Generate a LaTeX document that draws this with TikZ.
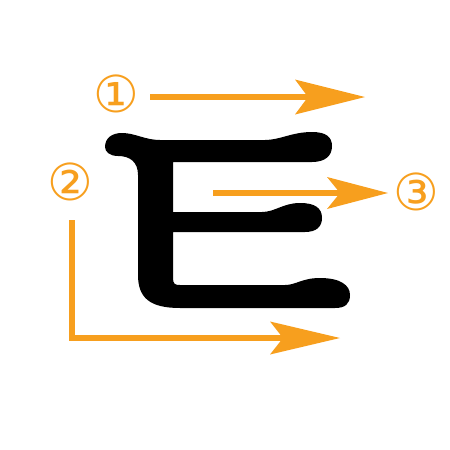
\documentclass[tikz,border=0pt]{standalone}
\usepackage{fontspec}
\newfontfamily\circfont{DejaVu Sans}
\usetikzlibrary{arrows.meta}
\definecolor{strokeorange}{RGB}{247,159,30}
\tikzset{
  x=1pt, y=-1pt,
  guide/.style={draw=strokeorange, line width=6.5pt, line cap=butt},
  numlabel/.style={text=strokeorange, font=\circfont\fontsize{51}{51}\selectfont, inner sep=0pt},
  glyph/.style={fill=black, draw=none}
}
\begin{document}
\begin{tikzpicture}
\useasboundingbox (0,0) rectangle (450,450);
% glyph
\path[glyph] (105,147)
  .. controls (105,138) and (112,133) .. (122,133)
  .. controls (135,133) and (145,140) .. (160,140)
  -- (265,140)
  .. controls (280,140) and (292,132) .. (312,132)
  .. controls (326,132) and (332,137) .. (332,146)
  .. controls (332,156) and (325,162) .. (312,162)
  -- (173,162) -- (173,212) -- (262,212)
  .. controls (275,212) and (283,203) .. (300,203)
  .. controls (315,203) and (322,208) .. (322,218)
  .. controls (322,227) and (316,232) .. (305,232)
  -- (173,232) -- (173,278)
  .. controls (173,284) and (175,285) .. (180,285)
  -- (285,285)
  .. controls (296,285) and (302,278) .. (320,278)
  .. controls (340,278) and (350,285) .. (350,295)
  .. controls (350,304) and (345,308) .. (335,308)
  -- (180,308)
  .. controls (150,308) and (138,298) .. (138,275)
  -- (138,175)
  .. controls (138,162) and (130,156) .. (118,156)
  .. controls (110,156) and (105,152) .. (105,147)
  -- cycle;
% labels
\node[numlabel] (n1) at (116,94) {①};
\node[numlabel] (n2) at (70,182) {②};
\node[numlabel] (n3) at (416,192) {③};
% guide coordinates
\coordinate (a1s) at (150,97);
\coordinate (a1e) at (365,97);
\coordinate (a3s) at (213,193);
\coordinate (a3e) at (388,193);
\coordinate (a2s) at (72,220);
\coordinate (a2c) at (72,338);
\coordinate (a2e) at (340,338);
% arrows
\draw[guide, -{Stealth[length=70pt,width=35pt,inset=13pt,line width=0pt]}] (a1s) -- (a1e);
\draw[guide, -{Stealth[length=61pt,width=32pt,inset=13pt,line width=0pt]}] (a3s) -- (a3e);
\draw[guide, -{Stealth[length=70pt,width=33pt,inset=13pt,line width=0pt]}] (a2s) -- (a2c) -- (a2e);
\end{tikzpicture}
\end{document}
